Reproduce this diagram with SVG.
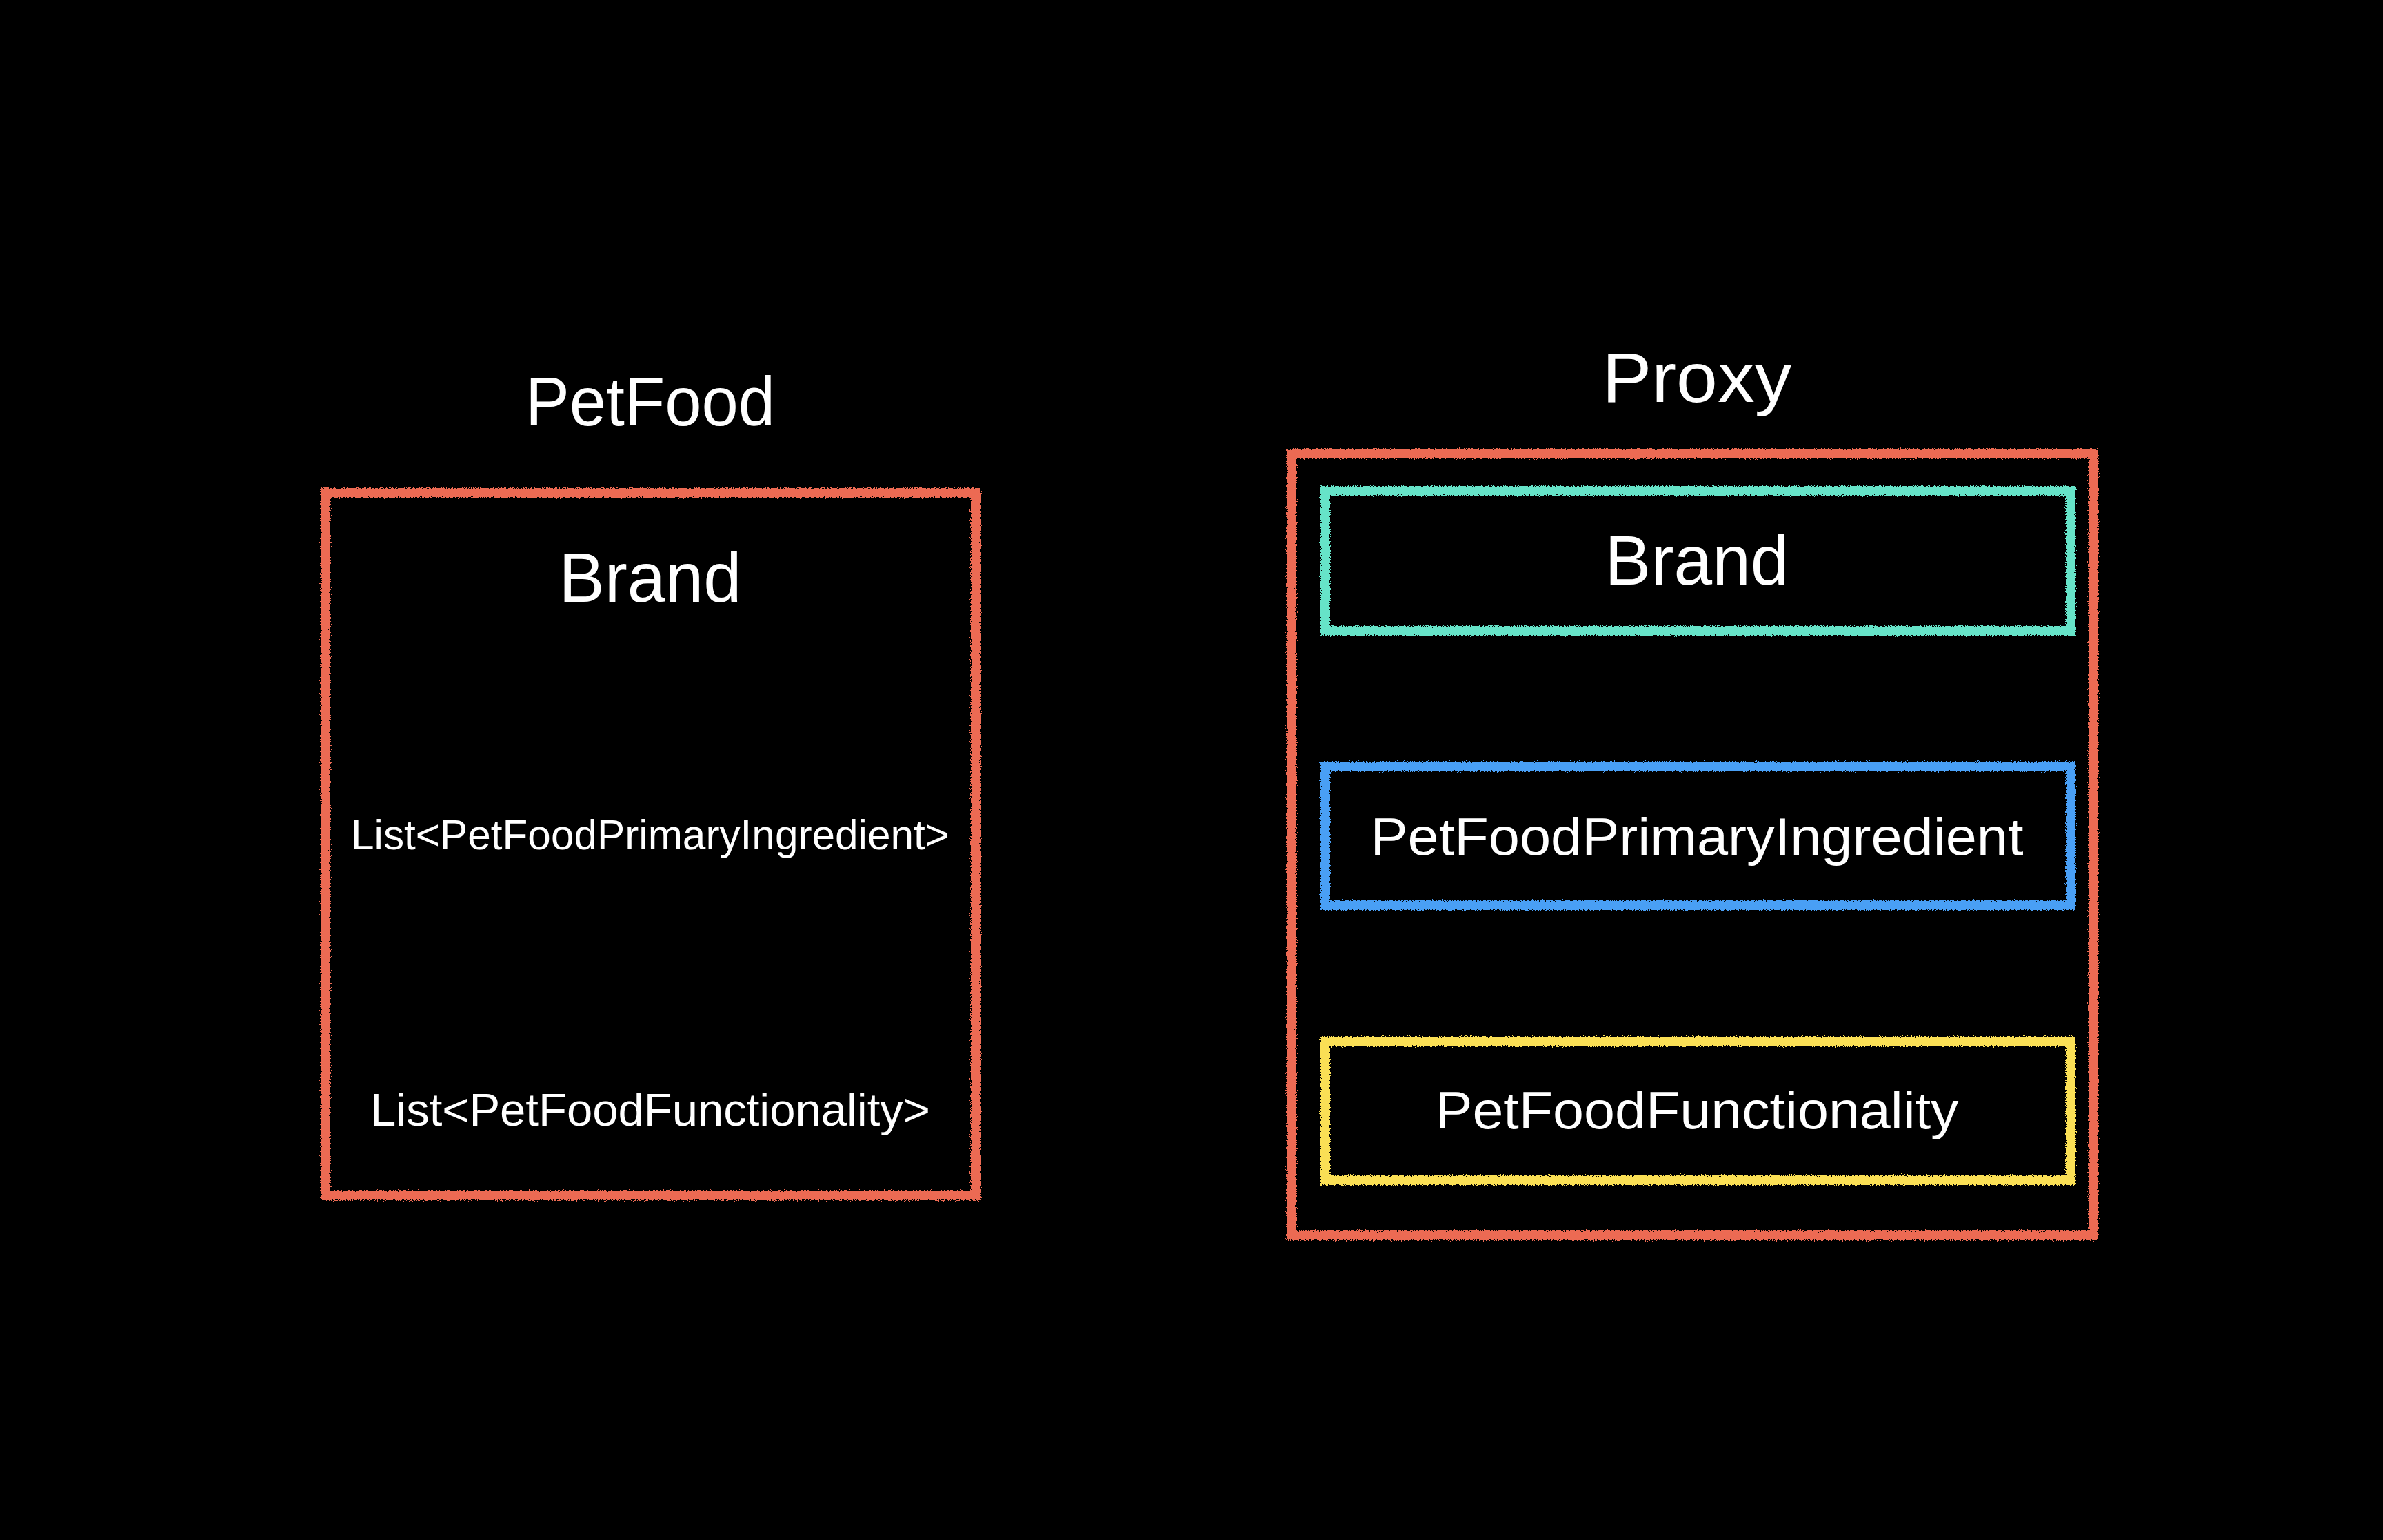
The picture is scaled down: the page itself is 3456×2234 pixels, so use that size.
<svg xmlns="http://www.w3.org/2000/svg" width="3456" height="2234" viewBox="0 0 3456 2234">
  <defs>
    <filter id="chalk" x="-5%" y="-5%" width="110%" height="110%">
      <feTurbulence type="fractalNoise" baseFrequency="0.8" numOctaves="2" seed="3" result="n"/>
      <feDisplacementMap in="SourceGraphic" in2="n" scale="7" xChannelSelector="R" yChannelSelector="G"/>
    </filter>
    <style>
      .box { fill: none; stroke-width: 14; filter: url(#chalk); }
      .red { stroke: #ec6a53; }
      .teal { stroke: #66e3c8; }
      .blue { stroke: #4a9ff5; }
      .yellow { stroke: #fadf55; }
      .t { fill: #ffffff; font-family: "Liberation Sans", Arial, sans-serif; text-anchor: middle; lengthAdjust: spacingAndGlyphs; }
    </style>
  </defs>
  <rect x="0" y="0" width="3456" height="2234" fill="#000000"/>

  <g id="petfood">
    <text class="t" x="943" y="617" font-size="100" textLength="362" lengthAdjust="spacingAndGlyphs">PetFood</text>
    <rect class="box red" x="472" y="715" width="943" height="1019"/>
    <text class="t" x="943" y="873" font-size="102" textLength="265" lengthAdjust="spacingAndGlyphs">Brand</text>
    <text class="t" x="943" y="1232" font-size="61" textLength="868" lengthAdjust="spacingAndGlyphs">List&lt;PetFoodPrimaryIngredient&gt;</text>
    <text class="t" x="943" y="1633" font-size="66" textLength="812" lengthAdjust="spacingAndGlyphs">List&lt;PetFoodFunctionality&gt;</text>
  </g>

  <g id="proxy">
    <text class="t" x="2461" y="583" font-size="102" textLength="275" lengthAdjust="spacingAndGlyphs">Proxy</text>
    <rect class="box red" x="1873" y="658" width="1163" height="1134"/>
  </g>

  <g id="proxy-brand">
    <rect class="box teal" x="1922" y="712" width="1081" height="203"/>
    <text class="t" x="2461" y="848" font-size="102" textLength="267" lengthAdjust="spacingAndGlyphs">Brand</text>
  </g>

  <g id="proxy-ingredient">
    <rect class="box blue" x="1922" y="1112" width="1081" height="201"/>
    <text class="t" x="2461" y="1240" font-size="76" textLength="947" lengthAdjust="spacingAndGlyphs">PetFoodPrimaryIngredient</text>
  </g>

  <g id="proxy-functionality">
    <rect class="box yellow" x="1922" y="1511" width="1081" height="201"/>
    <text class="t" x="2461" y="1637" font-size="76" textLength="759" lengthAdjust="spacingAndGlyphs">PetFoodFunctionality</text>
  </g>

  <g id="connectors"></g>
</svg>
